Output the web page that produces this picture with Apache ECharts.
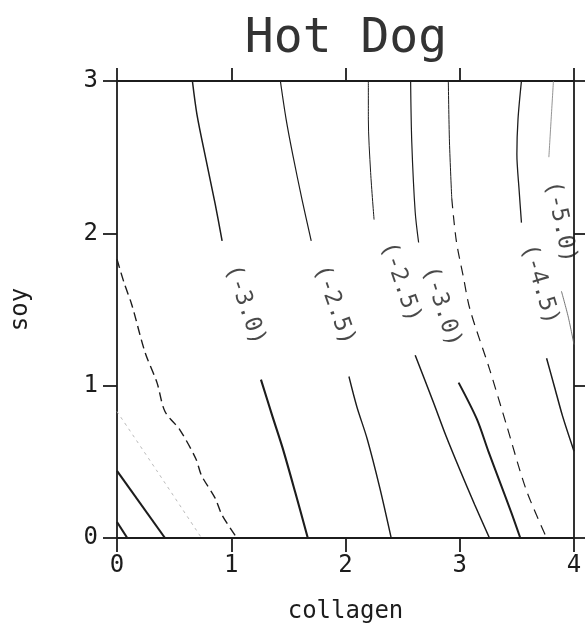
<!DOCTYPE html>
<html>
<head>
<meta charset="utf-8">
<script src="https://cdn.jsdelivr.net/npm/echarts@6/dist/echarts.min.js"></script>
<style>
html,body{margin:0;padding:0;background:#fff;}
#chart{width:585px;height:631px;}
</style>
</head>
<body>
<div id="chart"></div>
<script>
// ---- data (collagen, soy) ----
const titleText = 'Hot Dog';
const xName = 'collagen';
const yName = 'soy';
const collagenTicks = [0, 1, 2, 3, 4];
const soyTicks = [0, 1, 2, 3];

// contour paths [collagen, soy]
const contourA_upper = [[0.66,3.0],[0.70,2.78],[0.78,2.48],[0.86,2.19],[0.92,1.95]];
const contourA_lower = [[1.26,1.04],[1.36,0.80],[1.45,0.59],[1.56,0.30],[1.67,0.0]];
const contourB_upper = [[1.43,3.0],[1.48,2.75],[1.54,2.51],[1.62,2.22],[1.70,1.95]];
const contourB_lower = [[2.03,1.06],[2.10,0.86],[2.19,0.65],[2.30,0.33],[2.40,0.0]];
const contourC_upper = [[2.20,3.0],[2.20,2.75],[2.22,2.40],[2.25,2.09]];
const contourC_lower = [[2.61,1.20],[2.77,0.89],[2.88,0.67],[3.00,0.45],[3.13,0.22],[3.26,0.0]];
const contourD_upper = [[2.57,3.0],[2.58,2.60],[2.61,2.14],[2.64,1.94]];
const contourD_lower = [[2.99,1.02],[3.15,0.78],[3.25,0.57],[3.35,0.37],[3.45,0.17],[3.53,0.0]];
const contourE_upper = [[2.90,3.0],[2.91,2.60],[2.93,2.23]];
const contourE_lower = [[2.93,2.23],[2.97,1.95],[3.03,1.72],[3.09,1.50],[3.26,1.11],[3.41,0.74],[3.58,0.32],[3.76,0.0]];
const contourF_upper = [[3.54,3.0],[3.51,2.75],[3.50,2.52],[3.52,2.28],[3.54,2.07]];
const contourF_lower = [[3.76,1.18],[3.83,0.99],[3.90,0.80],[4.0,0.57]];
const contourG_upper = [[3.82,3.0],[3.80,2.75],[3.78,2.50]];
const contourG_lower = [[3.89,1.62],[3.95,1.45],[4.0,1.27]];
const contourH = [[0.0,1.83],[0.06,1.68],[0.13,1.53],[0.245,1.22],[0.35,1.02],[0.42,0.83],[0.55,0.71],[0.69,0.52],[0.74,0.41],[0.86,0.26],[0.92,0.15],[1.05,0.0]];
const contourI = [[0.0,0.83],[0.35,0.44],[0.74,0.0]];
const contourJ = [[0.0,0.44],[0.42,0.0]];
const contourK = [[0.0,0.105],[0.09,0.0]];

// contour labels
const labelText = ['(-3.0)','(-2.5)','(-2.5)','(-3.0)','(-4.5)','(-5.0)'];
const labelCollagen = [1.12, 1.90, 2.48, 2.84, 3.70, 3.88];
const labelSoy = [1.53, 1.53, 1.68, 1.52, 1.665, 2.075];

// ---- styles ----
const labelAngles = [-71, -70.5, -71, -72, -73, -78];
const FONT = 'DejaVu Sans Mono';
const INK = '#1c1c1c';

function line(data, width, type, color) {
  return {
    type: 'line', data: data, showSymbol: false, symbol: 'none', smooth: 0.3,
    lineStyle: { color: color || INK, width: width, type: type || 'solid' },
    silent: true, z: 3
  };
}

const series = [
  line(contourA_upper, 1.5), line(contourA_lower, 2.1),
  line(contourB_upper, 1.2), line(contourB_lower, 1.4),
  line(contourC_upper, 1.0), line(contourC_lower, 1.5),
  line(contourD_upper, 1.2), line(contourD_lower, 2.0),
  line(contourE_upper, 1.0), line(contourE_lower, 1.2, [10, 7]),
  line(contourF_upper, 1.3), line(contourF_lower, 1.5),
  line(contourG_upper, 0.9, 'solid', '#888'), line(contourG_lower, 0.9, 'solid', '#666'),
  line(contourH, 1.4, [9, 5]),
  line(contourI, 1.0, [3, 4], '#bbb'),
  line(contourJ, 2.1), line(contourK, 2.1),
  {
    type: 'scatter', symbolSize: 2, itemStyle: { color: 'rgba(0,0,0,0)' }, silent: true, z: 5,
    data: labelText.map((t, i) => ({
      value: [labelCollagen[i], labelSoy[i]],
      label: { formatter: t, rotate: labelAngles[i] }
    })),
    label: {
      show: true, position: 'inside', color: INK,
      fontFamily: FONT, fontSize: 23, align: 'center', verticalAlign: 'middle'
    }
  }
];

const axisLine = { show: true, onZero: false, lineStyle: { color: INK, width: 1.8 } };

const option = {
  backgroundColor: '#fff',
  animation: false,
  title: {
    text: titleText, left: 341, top: 11, textAlign: 'center',
    textStyle: { fontFamily: FONT, fontSize: 48, fontWeight: 'normal', color: '#333' }
  },
  grid: { left: 117, right: 11, top: 81, bottom: 93 },
  xAxis: [
    {
      type: 'value', position: 'bottom', min: collagenTicks[0], max: collagenTicks[collagenTicks.length - 1], interval: 1,
      axisLine: axisLine, axisTick: { show: true, inside: false, length: 14, lineStyle: { color: INK, width: 1.8 } },
      axisLabel: { margin: 16, fontFamily: FONT, fontSize: 24, color: INK },
      splitLine: { show: false },
      name: xName, nameLocation: 'middle', nameGap: 62,
      nameTextStyle: { fontFamily: FONT, fontSize: 24, color: INK }
    },
    {
      type: 'value', position: 'top', min: collagenTicks[0], max: collagenTicks[collagenTicks.length - 1], interval: 1,
      axisLine: axisLine, axisTick: { show: true, inside: false, length: 13, lineStyle: { color: INK, width: 1.8 } },
      axisLabel: { show: false }, splitLine: { show: false }
    }
  ],
  yAxis: [
    {
      type: 'value', position: 'left', min: soyTicks[0], max: soyTicks[soyTicks.length - 1], interval: 1,
      axisLine: axisLine, axisTick: { show: true, inside: false, length: 14, lineStyle: { color: INK, width: 1.8 } },
      axisLabel: { margin: 19, fontFamily: FONT, fontSize: 24, color: INK },
      splitLine: { show: false },
      name: yName, nameLocation: 'middle', nameGap: 84, nameRotate: 90,
      nameTextStyle: { fontFamily: FONT, fontSize: 24, color: INK }
    },
    {
      type: 'value', position: 'right', min: soyTicks[0], max: soyTicks[soyTicks.length - 1], interval: 1,
      axisLine: axisLine, axisTick: { show: true, inside: false, length: 13, lineStyle: { color: INK, width: 1.8 } },
      axisLabel: { show: false }, splitLine: { show: false }
    }
  ],
  series: series
};

const chart = echarts.init(document.getElementById('chart'), null, { renderer: 'canvas' });
chart.setOption(option);
</script>
</body>
</html>
